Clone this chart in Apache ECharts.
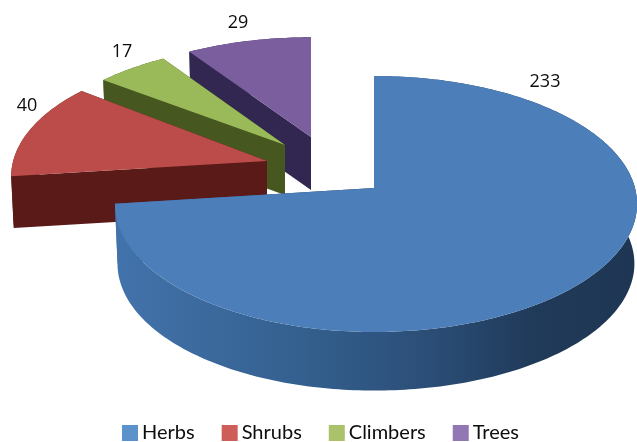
<!DOCTYPE html>
<html><head><meta charset="utf-8">
<script src="https://cdn.jsdelivr.net/npm/echarts@6/dist/echarts.min.js"></script>
<style>html,body{margin:0;padding:0;background:#fff}#c{width:637px;height:442px}</style>
</head><body><div id="c"></div>
<script>
const categories = ['Herbs', 'Shrubs', 'Climbers', 'Trees'];
const values = [233, 40, 17, 29];
const topColors = ['#4c7eb9', '#bb4c49', '#9aba59', '#7b5e9e'];
const sideColors = [null, '#5a1a18', '#46571f', '#322750'];
const legendColors = ['#5b92ca', '#cd5f58', '#aac36a', '#9377b4'];
const apexX = [374, 267, 285, 311];
const apexY = [188, 161, 145, 137];
const arcShiftX = [2, 0, 0, 0];
const scalesX = [1, 0.98, 0.96, 0.96];
const scalesY = [1, 0.97, 0.90, 0.89];
const depths = [60, 52, 50, 53];
const labelX = [545, 27, 122, 238];
const labelY = [82, 106, 52, 23];

const RX = 259, RY = 126, PERSP = 0.125, BOTTOM = 0.99;
const total = values.reduce((a, b) => a + b, 0);

function project(deg, i) {
  const t = deg * Math.PI / 180, u = Math.sin(t), v = -Math.cos(t), w = 1 - PERSP * v;
  return [apexX[i] + arcShiftX[i] * Math.abs(u) + scalesX[i] * RX * u / w, apexY[i] + scalesY[i] * RY * v / w];
}
function lower(p, i) {
  return [apexX[i] + (p[0] - apexX[i]) * BOTTOM, apexY[i] + (p[1] - apexY[i]) * BOTTOM + depths[i]];
}
function renderSlice(i) {
  return function (params, api) {
    const before = values.slice(0, i).reduce((a, b) => a + b, 0);
    const a0 = before / total * 360, a1 = (before + api.value(0)) / total * 360;
    const arc = [];
    for (let a = a0; a <= a1 + 1e-6; a += 1) arc.push(project(a, i));
    arc.push(project(a1, i));
    const apex = [apexX[i], apexY[i]];
    const low = arc.map(p => lower(p, i)), lowApex = lower(apex, i);
    let side = sideColors[i];
    if (!side) side = new echarts.graphic.LinearGradient(0, 0, 1, 0, [
      { offset: 0, color: '#4373ac' }, { offset: 0.35, color: '#34608f' },
      { offset: 0.6, color: '#2b4e77' }, { offset: 0.8, color: '#203a59' }, { offset: 1, color: '#1e3653' }]);
    const poly = (pts, fill) => ({ type: 'polygon', shape: { points: pts }, style: { fill: fill } });
    const last = arc.length - 1;
    return { type: 'group', children: [
      poly([apex, arc[0], low[0], lowApex], side),
      poly([apex, arc[last], low[last], lowApex], side),
      poly(arc.concat(low.slice().reverse()), side),
      poly([apex].concat(arc), topColors[i]),
      { type: 'text', z2: 10, style: { x: labelX[i], y: labelY[i], text: String(api.value(0)),
        fill: '#0d0d0d', font: '18px "Open Sans"', align: 'center', verticalAlign: 'middle' } }
    ] };
  };
}
const chart = echarts.init(document.getElementById('c'), null, { renderer: 'canvas' });
chart.setOption({
  animation: false,
  legend: {
    bottom: -6, left: 117, itemWidth: 16, itemHeight: 16, itemGap: 27, icon: 'rect',
    textStyle: { fontFamily: 'Lato', fontSize: 20, color: '#0d0d0d', padding: [0, 0, 0, -1] },
    data: categories.map((c, i) => ({ name: c, itemStyle: { color: legendColors[i] } }))
  },
  series: categories.map((c, i) => ({
    type: 'custom', name: c, coordinateSystem: 'none', z: 10 - i,
    itemStyle: { color: topColors[i] }, silent: true,
    renderItem: renderSlice(i), data: [[values[i]]]
  }))
});
</script></body></html>
